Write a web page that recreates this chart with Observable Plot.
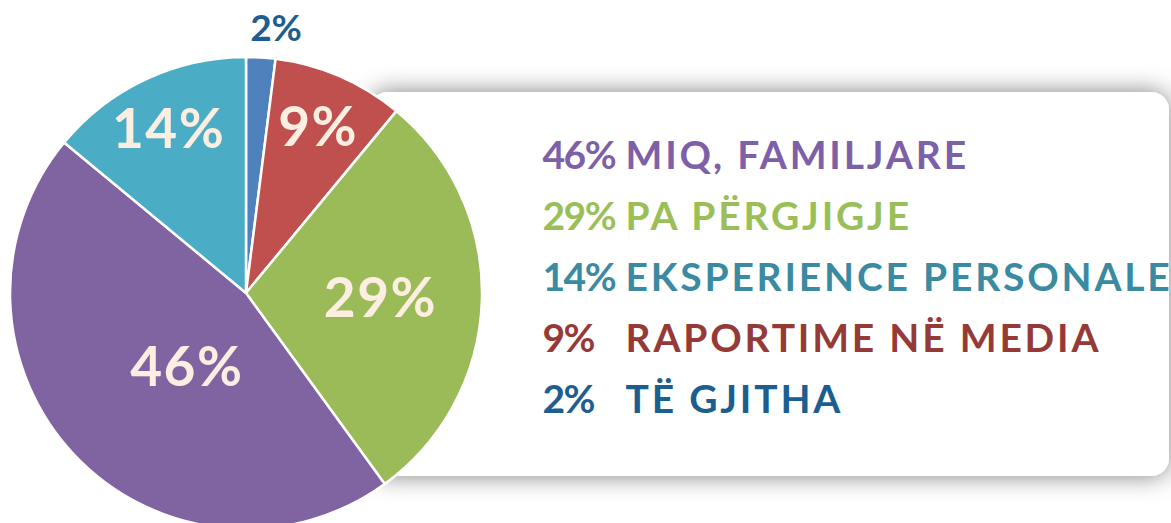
<!DOCTYPE html>
<html><head><meta charset="utf-8">
<script src="https://cdn.jsdelivr.net/npm/d3@7"></script>
<script src="https://cdn.jsdelivr.net/npm/@observablehq/plot@0.6"></script>
<style>
body{margin:0;background:#fff;overflow:hidden}
svg > g:last-of-type text{letter-spacing:2.8px}
svg > g:nth-last-of-type(2) text{letter-spacing:-1.5px}
</style>
</head><body><div id="chart"></div>
<script>
// Slices, clockwise from 12 o'clock
const categories = ["TË GJITHA", "RAPORTIME NË MEDIA", "PA PËRGJIGJE", "MIQ, FAMILJARE", "EKSPERIENCE PERSONALE"];
const values = [2, 9, 29, 46, 14];
// Legend order (top to bottom)
const legendOrder = ["MIQ, FAMILJARE", "PA PËRGJIGJE", "EKSPERIENCE PERSONALE", "RAPORTIME NË MEDIA", "TË GJITHA"];
const sliceColors = ["#4f81bd", "#c0504d", "#9bbb59", "#8064a2", "#4bacc6"];
const legendTextColors = ["#7e60a8", "#9bbf58", "#3a8ba1", "#953a37", "#1b5e8f"];

const rows = categories.map((c, i) => ({category: c, value: values[i]}));
const legendRows = legendOrder.map((c, i) => ({category: c, value: values[categories.indexOf(c)], tcolor: legendTextColors[i]}));

const color = Plot.scale({color: {type: "ordinal", domain: categories, range: sliceColors}});

const W = 1171, H = 523;
const FONT = "Lato, 'Open Sans', sans-serif";

function boxMark(index, scales, vals, dims) {
  const g = d3.create("svg:g");
  const f = g.append("defs").append("filter").attr("id", "sh")
    .attr("x", "-10%").attr("y", "-30%").attr("width", "120%").attr("height", "160%");
  f.append("feDropShadow").attr("dx", 0).attr("dy", 0).attr("stdDeviation", 12)
    .attr("flood-color", "#000").attr("flood-opacity", 0.5);
  g.append("rect").attr("x", 370).attr("y", 92).attr("width", 799).attr("height", 384)
    .attr("rx", 18).attr("fill", "#fff").attr("filter", "url(#sh)");
  return g.node();
}

function pieMark(index, scales, vals, dims) {
  const cx = 246, cy = 293, R = 236;
  const g = d3.create("svg:g").attr("transform", `translate(${cx},${cy})`);
  const arcs = d3.pie().sort(null).value(d => d.value)(rows);
  const arc = d3.arc().innerRadius(0).outerRadius(R);
  g.selectAll("path").data(arcs).join("path")
    .attr("d", arc)
    .attr("fill", d => color.apply(d.data.category))
    .attr("stroke", "#fff").attr("stroke-width", 2.5).attr("stroke-linejoin", "round");
  const lab = a => {
    const v = a.data.value;
    const k = v < 5 ? 1.13 : v >= 40 ? 0.40 : v >= 25 ? 0.57 : 0.77;
    const m = (a.startAngle + a.endAngle) / 2 + (v < 5 ? 0.05 : v >= 40 ? -0.14 : 0);
    return [Math.sin(m) * R * k, -Math.cos(m) * R * k];
  };
  g.selectAll("text").data(arcs).join("text")
    .attr("x", d => lab(d)[0]).attr("y", d => lab(d)[1])
    .attr("text-anchor", "middle").attr("dy", "0.36em")
    .attr("font-family", FONT).attr("font-weight", 700)
    .attr("font-size", d => d.data.value < 5 ? 37 : 55)
    .attr("letter-spacing", d => d.data.value < 5 ? 0 : 1.5)
    .attr("fill", d => d.data.value < 5 ? "#1b5e8f" : "#fdeee2")
    .text(d => `${d.data.value}%`);
  return g.node();
}

const plot = Plot.plot({
  width: W, height: H,
  margin: 0,
  style: {fontFamily: FONT, background: "transparent", overflow: "visible"},
  y: {type: "point", domain: legendOrder, range: [156, 400], padding: 0, axis: null},
  marks: [
    boxMark,
    pieMark,
    Plot.text(legendRows, {y: "category", text: d => `${d.value}%`, frameAnchor: "left", dx: 542,
      textAnchor: "start", fill: "tcolor", fontSize: 39, fontWeight: 700}),
    Plot.text(legendRows, {y: "category", text: "category", frameAnchor: "left", dx: 625,
      textAnchor: "start", fill: "tcolor", fontSize: 39, fontWeight: 700})
  ]
});
document.getElementById("chart").append(plot);
</script>
</body></html>
